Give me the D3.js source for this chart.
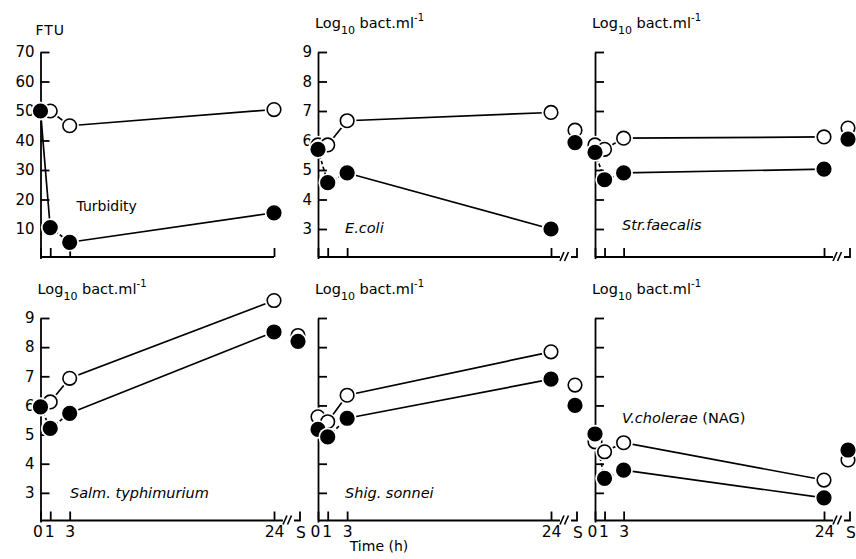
<!DOCTYPE html>
<html>
<head>
<meta charset="utf-8">
<script src="https://cdn.jsdelivr.net/npm/d3@7"></script>
<style>
  body { margin: 0; background: #fff; }
  svg { display: block; font-family: "DejaVu Sans", "Liberation Sans", sans-serif; }
</style>
</head>
<body>
<div id="chart"></div>
<script>
// sampling times (h); "S" is the extra point after the axis break
const times = [0, 1, 3, 24];

const turbOpen   = [50, 50, 45, 50.5];
const turbFilled = [50, 10.5, 5.5, 15.5];

const ecoliOpen   = [5.85, 5.85, 6.67, 6.95];
const ecoliFilled = [5.7, 4.57, 4.9, 3.0];
const ecoliS      = [6.35, 5.93];   // [open, filled]

const strOpen   = [5.85, 5.7, 6.08, 6.12];
const strFilled = [5.6, 4.67, 4.9, 5.03];
const strS      = [6.42, 6.05];

const salmOpen   = [5.95, 6.12, 6.93, 9.6];
const salmFilled = [5.95, 5.21, 5.73, 8.52];
const salmS      = [8.4, 8.2];

const shigOpen   = [5.61, 5.44, 6.35, 7.84];
const shigFilled = [5.18, 4.92, 5.56, 6.9];
const shigS      = [6.7, 6.0];

const vibOpen   = [4.75, 4.41, 4.72, 3.44];
const vibFilled = [5.02, 3.5, 3.78, 2.83];
const vibS      = [4.13, 4.47];

const ftuTicks  = [10, 20, 30, 40, 50, 60, 70];
const logTicks  = [3, 4, 5, 6, 7, 8, 9];
const timeLabels = ["0", "1", "3", "24"];

const panels = [
  {row: 0, col: 0, open: turbOpen, filled: turbFilled, s: null, domain: [0, 70], ticks: ftuTicks, tickLabels: true, name: "Turbidity", italic: false, extra: ""},
  {row: 0, col: 1, open: ecoliOpen, filled: ecoliFilled, s: ecoliS, domain: [2, 9], ticks: logTicks, tickLabels: true, name: "E.coli", italic: true, extra: ""},
  {row: 0, col: 2, open: strOpen, filled: strFilled, s: strS, domain: [2, 9], ticks: logTicks, tickLabels: false, name: "Str.faecalis", italic: true, extra: ""},
  {row: 1, col: 0, open: salmOpen, filled: salmFilled, s: salmS, domain: [2, 9], ticks: logTicks, tickLabels: true, name: "Salm. typhimurium", italic: true, extra: ""},
  {row: 1, col: 1, open: shigOpen, filled: shigFilled, s: shigS, domain: [2, 9], ticks: logTicks, tickLabels: false, name: "Shig. sonnei", italic: true, extra: ""},
  {row: 1, col: 2, open: vibOpen, filled: vibFilled, s: vibS, domain: [2, 9], ticks: logTicks, tickLabels: false, name: "V.cholerae", italic: true, extra: " (NAG)"}
];

const width = 856, height = 559;
const colLeft  = [40.5, 318, 595];
const colRight = [274, 551, 824];
const rowTop    = [52, 318];
const rowBottom = [258.5, 522];
const sGap = 26;
const r = 6.8;

// label offsets, relative to the panel's left axis and bottom
const nameOffsets = [[36, -48], [27, -25.5], [27, -28.5], [29.5, -24], [27, -24], [27, -99]];

const svg = d3.select("#chart").append("svg")
  .attr("width", width)
  .attr("height", height);

panels.forEach((p, i) => {
  const x = d3.scaleLinear().domain([0, 24]).range([colLeft[p.col], colRight[p.col]]);
  const y = d3.scaleLinear().domain(p.domain).range([rowBottom[p.row], rowTop[p.row]]);
  const xS = x(24) + sGap;
  const axisY = rowBottom[p.row] - 1.5;
  const g = svg.append("g");

  // y axis, ticks pointing inwards
  g.append("g")
    .attr("transform", `translate(${x(0)},0)`)
    .call(d3.axisLeft(y)
      .tickValues(p.ticks)
      .tickSizeInner(-9)
      .tickSizeOuter(0)
      .tickPadding(6)
      .tickFormat(p.tickLabels ? d3.format("d") : ""))
    .call(a => a.attr("font-family", null).attr("font-size", null))
    .call(a => a.selectAll("path, line").attr("stroke", "#000").attr("stroke-width", 1.8))
    .call(a => a.selectAll("text").attr("fill", "#000").style("font-size", "15px"));

  // x axis: ticks up, labels only on the bottom row
  const xa = g.append("g")
    .attr("transform", `translate(0,${axisY})`)
    .call(d3.axisBottom(x)
      .tickValues(times)
      .tickSizeInner(-9)
      .tickSizeOuter(0)
      .tickPadding(5)
      .tickFormat((d, k) => p.row === 1 ? timeLabels[k] : ""));
  xa.select(".domain").remove();
  xa.attr("font-family", null).attr("font-size", null);
  xa.selectAll("line").attr("stroke", "#000").attr("stroke-width", 1.8);
  xa.selectAll("text").attr("fill", "#000").style("font-size", "15.5px");
  xa.selectAll(".tick text").filter(d => d === 0).attr("dx", -3);
  xa.selectAll(".tick text").filter(d => d === 1).attr("dx", -1);

  const axisEnd = p.s ? x(24) + 9 : x(24);
  g.append("line")
    .attr("x1", x(0)).attr("x2", axisEnd)
    .attr("y1", axisY).attr("y2", axisY)
    .attr("stroke", "#000").attr("stroke-width", 1.8);

  if (p.s) {
    // break marks and the S segment
    [11, 15.5].forEach(o => {
      g.append("line")
        .attr("x1", x(24) + o - 2).attr("y1", axisY + 4)
        .attr("x2", x(24) + o + 2).attr("y2", axisY - 5)
        .attr("stroke", "#000").attr("stroke-width", 1.6);
    });
    g.append("path")
      .attr("d", `M${x(24) + 20},${axisY}H${xS}V${axisY - 9}`)
      .attr("fill", "none").attr("stroke", "#000").attr("stroke-width", 1.8);
    if (p.row === 1) {
      g.append("text")
        .attr("x", xS + 1).attr("y", axisY + 17.5)
        .attr("text-anchor", "middle")
        .style("font-size", "15.5px")
        .text("S");
    }
  }

  // connecting lines
  const openPts = times.map((t, k) => [x(t), y(p.open[k])]);
  const filledPts = times.map((t, k) => [x(t), y(p.filled[k])]);
  g.append("path")
    .attr("d", d3.line()(openPts))
    .attr("fill", "none").attr("stroke", "#000").attr("stroke-width", 1.7);
  for (let k = 0; k < 3; k++) {
    const dashed = k < 2 && !(i === 0 && k === 0);
    g.append("path")
      .attr("d", d3.line()([filledPts[k], filledPts[k + 1]]))
      .attr("fill", "none").attr("stroke", "#000").attr("stroke-width", 1.7)
      .attr("stroke-dasharray", dashed ? "3.5,2.5" : null);
  }

  const dot = (cx, cy, filled) => {
    g.append("circle").attr("cx", cx).attr("cy", cy).attr("r", r + 2.5).attr("fill", "#fff");
    g.append("circle").attr("cx", cx).attr("cy", cy).attr("r", r)
      .attr("fill", filled ? "#000" : "#fff")
      .attr("stroke", "#000").attr("stroke-width", 1.6);
  };
  openPts.forEach(d => dot(d[0], d[1], false));
  filledPts.forEach(d => dot(d[0], d[1], true));
  if (p.s) {
    dot(xS - 2, y(p.s[0]), false);
    dot(xS - 2, y(p.s[1]), true);
  }

  // organism / quantity label
  const nt = g.append("text")
    .attr("x", x(0) + nameOffsets[i][0])
    .attr("y", rowBottom[p.row] + nameOffsets[i][1])
    .style("font-size", p.italic ? "14.5px" : "14px");
  nt.append("tspan").style("font-style", p.italic ? "italic" : "normal").text(p.name);
  if (p.extra) nt.append("tspan").text(p.extra);

  // axis title
  if (i === 0) {
    g.append("text")
      .attr("x", x(0) - 5).attr("y", 35)
      .style("font-size", "14px")
      .style("letter-spacing", "1px")
      .text("FTU");
  } else {
    const tt = g.append("text")
      .attr("x", x(0) - 3).attr("y", rowTop[p.row] - 24)
      .style("font-size", "14.5px");
    tt.append("tspan").text("Log");
    tt.append("tspan").attr("dy", 6).style("font-size", "11px").text("10");
    tt.append("tspan").attr("dy", -6).text(" bact.ml");
    tt.append("tspan").attr("dy", -7).style("font-size", "10px").text("-1");
  }
});

svg.append("text")
  .attr("x", 379).attr("y", 551)
  .attr("text-anchor", "middle")
  .style("font-size", "14px")
  .text("Time (h)");
</script>
</body>
</html>
